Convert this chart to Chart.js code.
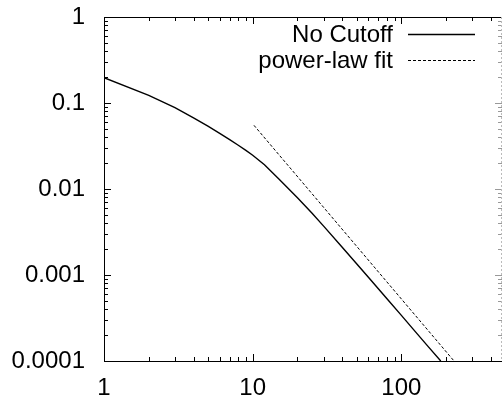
<!DOCTYPE html>
<html>
<head>
<meta charset="utf-8">
<script src="https://cdn.jsdelivr.net/npm/chart.js@4"></script>
<style>
	body { margin: 0; background: #fff; }
	#wrap { width: 503px; height: 401px; }
</style>
</head>
<body>
<div id="wrap"><canvas id="myChart" width="503" height="401"></canvas></div>
<script>
// data
var cutoffX = [1, 2, 3, 4, 5, 6, 7, 8, 9, 10, 12, 15, 20, 25, 30, 40, 50, 60, 80, 100, 120, 150, 184];
var cutoffY = [0.197, 0.123, 0.0882, 0.0673, 0.0538, 0.0444, 0.0375, 0.0323, 0.0281, 0.0247, 0.0191, 0.0131, 0.0079, 0.00525, 0.0037, 0.0021, 0.00135, 0.00094, 0.000529, 0.000339, 0.000235, 0.00015, 0.0001];
var fitX = [10.2, 226];
var fitY = [0.055, 0.0001];

var xTicks = [1, 10, 100];
var xTickLabels = ['1', '10', '100'];
var yTicks = [0.0001, 0.001, 0.01, 0.1, 1];
var yTickLabels = ['0.0001', '0.001', '0.01', '0.1', '1'];

var FONT = { family: '"Liberation Sans", Arial, sans-serif', size: 24 };

function toPoints(xs, ys) {
	var pts = [];
	for (var i = 0; i < xs.length; i++) {
		pts.push({ x: xs[i], y: ys[i] });
	}
	return pts;
}

// frame + inward ticks like gnuplot
var framePlugin = {
	id: 'frame',
	afterDatasetsDraw: function (chart) {
		var ctx = chart.ctx;
		var a = chart.chartArea;
		var xs = chart.scales.x;
		var ys = chart.scales.y;
		ctx.save();
		ctx.lineWidth = 1;

		function tickVals(min, max) {
			var out = [];
			for (var d = Math.floor(Math.log10(min)); d <= Math.ceil(Math.log10(max)); d++) {
				for (var k = 1; k <= 9; k++) {
					var v = k * Math.pow(10, d);
					if (v >= min * 0.999 && v <= max * 1.001) out.push({ v: v, major: k == 1 });
				}
			}
			return out;
		}

		// x ticks bottom / top
		ctx.strokeStyle = '#000';
		tickVals(xs.min, xs.max).forEach(function (t) {
			var px = Math.round(xs.getPixelForValue(t.v)) + 0.5;
			var len = t.major ? 7 : 4;
			ctx.beginPath();
			ctx.moveTo(px, a.bottom); ctx.lineTo(px, a.bottom - len);
			ctx.moveTo(px, a.top); ctx.lineTo(px, a.top + len);
			ctx.stroke();
		});
		// y ticks left / right
		tickVals(ys.min, ys.max).forEach(function (t) {
			var py = Math.round(ys.getPixelForValue(t.v)) + 0.5;
			var len = t.major ? 7 : 4;
			ctx.strokeStyle = '#000';
			ctx.beginPath();
			ctx.moveTo(a.left, py); ctx.lineTo(a.left + len, py);
			ctx.stroke();
			ctx.strokeStyle = '#999';
			ctx.beginPath();
			ctx.moveTo(a.right, py); ctx.lineTo(a.right - len, py);
			ctx.stroke();
		});

		// border
		ctx.strokeStyle = '#000';
		ctx.beginPath();
		ctx.moveTo(Math.round(a.right), Math.round(a.top) + 0.5);
		ctx.lineTo(Math.round(a.left) + 0.5, Math.round(a.top) + 0.5);
		ctx.lineTo(Math.round(a.left) + 0.5, Math.round(a.bottom) + 0.5);
		ctx.lineTo(Math.round(a.right), Math.round(a.bottom) + 0.5);
		ctx.stroke();
		ctx.strokeStyle = '#bbb';
		ctx.setLineDash([2, 2]);
		ctx.beginPath();
		ctx.moveTo(Math.round(a.right) - 0.5, a.top);
		ctx.lineTo(Math.round(a.right) - 0.5, a.bottom);
		ctx.stroke();
		ctx.restore();
	}
};

// legend inside the plot, text on the left and sample on the right
var keyPlugin = {
	id: 'key',
	afterDatasetsDraw: function (chart) {
		var ctx = chart.ctx;
		ctx.save();
		ctx.font = FONT.size + 'px ' + FONT.family;
		ctx.fillStyle = '#000';
		ctx.textAlign = 'right';
		ctx.textBaseline = 'middle';
		chart.data.datasets.forEach(function (ds, i) {
			var y = 34 + i * 26;
			ctx.fillText(ds.label, 393, y + 1);
			ctx.strokeStyle = ds.borderColor;
			ctx.lineWidth = ds.borderWidth;
			ctx.setLineDash(ds.borderDash || []);
			ctx.beginPath();
			ctx.moveTo(408, Math.round(y) + 0.5);
			ctx.lineTo(475, Math.round(y) + 0.5);
			ctx.stroke();
		});
		ctx.restore();
	}
};

var ctx = document.getElementById('myChart').getContext('2d');
var myChart = new Chart(ctx, {
	type: 'line',
	data: {
		datasets: [{
			label: 'No Cutoff',
			data: toPoints(cutoffX, cutoffY),
			borderColor: '#000',
			borderWidth: 1.4,
			pointRadius: 0,
			tension: 0,
			fill: false
		}, {
			label: 'power-law fit',
			data: toPoints(fitX, fitY),
			borderColor: '#000',
			borderWidth: 1,
			borderDash: [3, 2],
			pointRadius: 0,
			fill: false
		}]
	},
	options: {
		responsive: false,
		devicePixelRatio: 1,
		animation: false,
		layout: { padding: { top: 17, right: 1, left: 0, bottom: 0 } },
		plugins: {
			legend: { display: false },
			tooltip: { enabled: false }
		},
		scales: {
			x: {
				type: 'logarithmic',
				min: 1,
				max: 475,
				grid: { display: false, drawTicks: false },
				border: { display: false },
				afterBuildTicks: function (scale) {
					scale.ticks = xTicks.map(function (v) { return { value: v }; });
				},
				afterFit: function (scale) {
					scale.height = 40;
					scale.paddingLeft = 0;
					scale.paddingRight = 0;
				},
				ticks: {
					font: FONT,
					color: '#000',
					padding: 13,
					maxRotation: 0,
					autoSkip: false,
					callback: function (value) {
						return xTickLabels[xTicks.indexOf(value)];
					}
				}
			},
			y: {
				type: 'logarithmic',
				min: 0.0001,
				max: 1,
				grid: { display: false, drawTicks: false },
				border: { display: false },
				afterBuildTicks: function (scale) {
					scale.ticks = yTicks.map(function (v) { return { value: v }; });
				},
				afterFit: function (scale) {
					scale.width = 104;
					scale.paddingTop = 0;
					scale.paddingBottom = 0;
				},
				ticks: {
					font: FONT,
					color: '#000',
					padding: 19,
					autoSkip: false,
					callback: function (value) {
						for (var i = 0; i < yTicks.length; i++) {
							if (Math.abs(yTicks[i] - value) < yTicks[i] * 1e-6) return yTickLabels[i];
						}
						return '';
					}
				}
			}
		}
	},
	plugins: [framePlugin, keyPlugin]
});
</script>
</body>
</html>
